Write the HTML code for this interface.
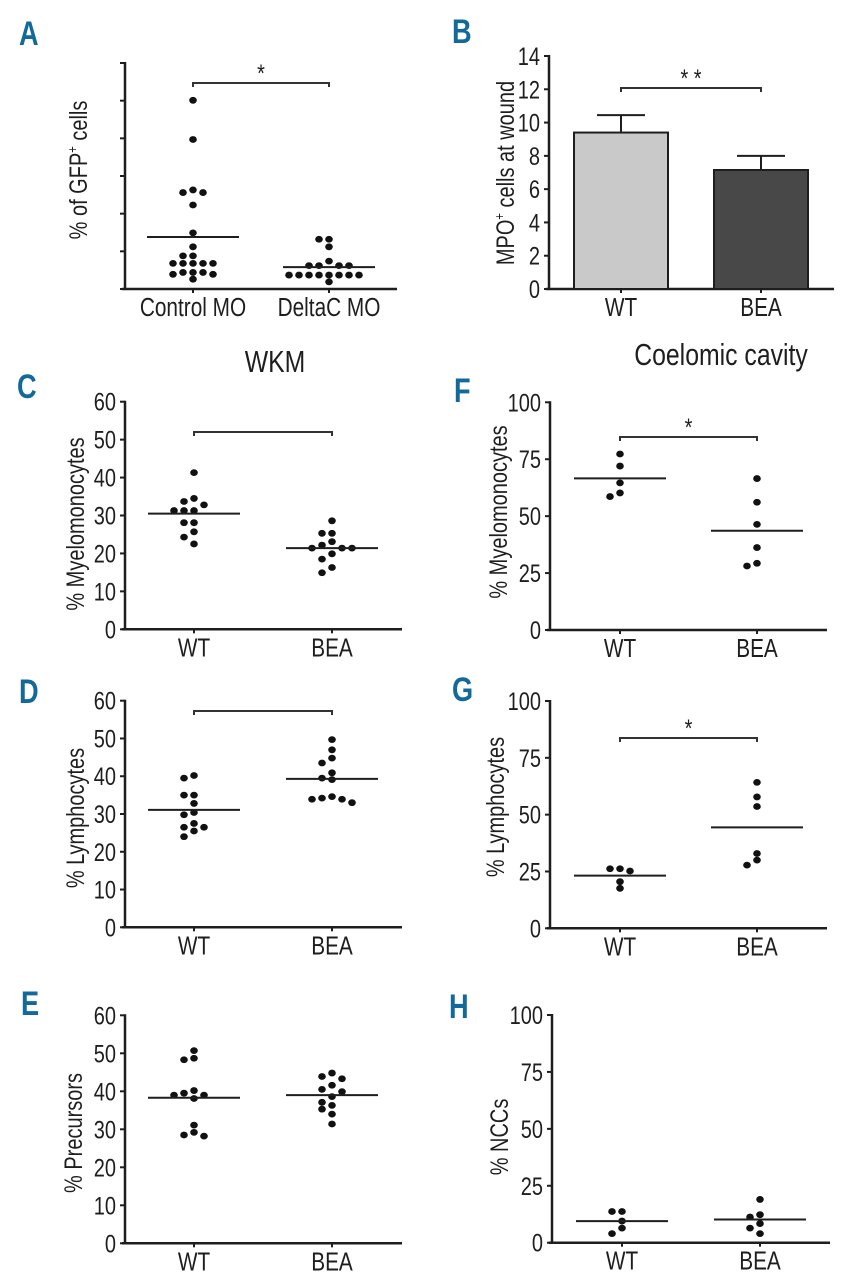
<!DOCTYPE html>
<html><head><meta charset="utf-8"><title>Figure</title>
<style>
html,body{margin:0;padding:0;background:#fff;}
svg{display:block;font-family:"Liberation Sans Narrow","Liberation Sans",sans-serif;}
</style></head>
<body>
<svg id="fig" xmlns="http://www.w3.org/2000/svg" width="851" height="1280" viewBox="0 0 851 1280"></svg>
<script>
// ---------- DATA ----------
const catsA = ['Control MO','DeltaC MO'];
const aControl = [5.01,3.97,2.56,2.56,2.63,2.23,1.49,1.12,0.88,0.88,0.68,0.68,0.68,0.68,0.68,0.44,0.39,0.44,0.39,0.44,0.26];
const aDelta = [1.32,1.32,1.12,0.74,0.62,0.62,0.62,0.62,0.37,0.37,0.37,0.37,0.37,0.37,0.37,0.37,0.19];
const aMedians = [1.38,0.58];
const aTicks = [0,1,2,3,4,5,6];

const catsB = ['WT','BEA'];
const bMeans = [9.4,7.15];
const bErr = [1.05,0.85];
const bTicks = [0,2,4,6,8,10,12,14];

const catsWB = ['WT','BEA'];
const ticks60 = [0,10,20,30,40,50,60];
const ticks100 = [0,25,50,75,100];

const cWT = [41.3,34.5,33.7,32.8,31.3,31.3,31.3,28.1,28.1,25.7,24.3,22.5];
const cBEA = [28.6,25.3,25.3,23.1,22.2,21.4,21.4,21.4,19.9,18.5,16.3,14.9];
const cMedians = [30.5,21.4];

const dWT = [40.2,39.5,35,35,32.8,30.4,29.8,27.5,26.5,26.5,25.5,24];
const dBEA = [49.7,47,44.8,43.5,40.9,39.5,39.1,34.6,34.2,33.9,33.9,33];
const dMedians = [31.1,39.3];

const eWT = [50.7,48.3,48.7,40.2,39.5,39.0,39.0,38.1,31.1,29.2,28.2,28.5];
const eBEA = [44.8,43.9,43.3,41.6,40.5,39.9,38.6,37.1,36.3,35.3,34.0,31.4];
const eMedians = [38.3,39.0];

const fWT = [77.3,72.0,64.6,60.2,58.6];
const fBEA = [66.5,56.1,46.4,36.2,29.3,28.1];
const fMedians = [66.6,43.6];

const gWT = [26.2,26.2,25.2,20.5,17.6];
const gBEA = [64.2,57.8,53.6,32.9,30.0,27.8];
const gMedians = [23.2,44.4];

const hWT = [13.7,13.7,9.5,6.4,4.0];
const hBEA = [19.0,12.3,11.3,8.4,6.4,4.0];
const hMedians = [9.5,10.2];

// ---------- DRAW ----------
const NS='http://www.w3.org/2000/svg';
const svg=document.getElementById('fig');
const SX=0.8;
function mk(tag,attrs,parent,text){
  const e=document.createElementNS(NS,tag);
  for(const k in attrs) e.setAttribute(k,attrs[k]);
  if(text!==undefined) e.textContent=text;
  (parent||svg).appendChild(e);
  return e;
}
function txt(parent,x,y,str,attrs,rot){
  const a=Object.assign({x:0,y:0},attrs);
  a.transform='translate('+x+','+y+')'+(rot?' rotate(-90)':'')+' scale('+SX+',1)';
  return mk('text',a,parent,str);
}
const INK='#1e1e1e';

function panelLetter(t,x,y){
  const e=txt(svg,x,y,t,{'font-size':34,'font-weight':'bold',fill:'#13699a'});
  
  
}
function title(t,x,y,name){
  const e=txt(svg,x,y,t,{'font-size':31,fill:INK,'text-anchor':'middle'});
  
  
}

function axes(g,o){
  const sy=v=>o.yBot-(v/o.max)*(o.yBot-o.yTop);
  const ax=mk('line',{x1:o.ax,y1:o.yTop-1,x2:o.ax,y2:o.yBot+1,stroke:INK,'stroke-width':2.5},g);
  
  
  const xa=mk('line',{x1:o.ax-3,y1:o.yBot,x2:o.xEnd,y2:o.yBot,stroke:INK,'stroke-width':2.5},g);
  
  
  o.ticks.forEach(v=>{
    const y=sy(v);
    const t=mk('line',{x1:o.ax-5,y1:y,x2:o.ax,y2:y,stroke:INK,'stroke-width':2},g);
    
    
    if(o.tickLabels){
      const l=txt(g,o.ax-9,y+9,String(v),{'font-size':25,fill:INK,'text-anchor':'end'});
      
      
    }
  });
  o.cats.forEach((c,i)=>{
    const cx=o.ax+o.cx[i];
    const t=mk('line',{x1:cx,y1:o.yBot,x2:cx,y2:o.yBot+4,stroke:INK,'stroke-width':2},g);
    
    
    const l=txt(g,cx,o.yBot+27,c,{'font-size':26,fill:INK,'text-anchor':'middle'});
    
    
  });
  const yl=txt(g,o.ylx+9,o.yly,'',{'font-size':25,fill:INK,'text-anchor':'middle'},true);
  
  
  if(o.ysup){
    mk('tspan',{},yl,o.ylabel[0]);
    mk('tspan',{'font-size':14,dy:-10},yl,o.ysup);
    mk('tspan',{dy:10},yl,o.ylabel[1]);
  } else yl.textContent=o.ylabel;
  if(o.bracket){
    const b=o.bracket;
    const x1=o.ax+o.cx[0], x2=o.ax+o.cx[1];
    const p=mk('path',{d:'M'+x1+','+(b+4)+' V'+b+' H'+x2+' V'+(b+4),fill:'none',stroke:'#333','stroke-width':2},g);
    
    
    if(o.star){
      const s=txt(g,(x1+x2)/2,b-1,o.star,{'font-size':25,fill:INK,'text-anchor':'middle'});
      
      
    }
  }
  return sy;
}

function swarm(vals,sy){
  const idx=vals.map((v,i)=>i).sort((a,b)=>vals[b]-vals[a]);
  const placed=[];const off=new Array(vals.length).fill(0);
  const cand=[0,-10,10,-20,20,-30,30,-40,40];
  idx.forEach(i=>{
    const y=sy(vals[i]);
    for(const c of cand){
      if(!placed.some(p=>Math.abs(p.y-y)<6.5&&Math.abs(p.x-c)<8.5)){
        off[i]=c;placed.push({x:c,y:y});break;
      }
    }
  });
  return off;
}

function scatterPanel(o){
  const g=mk('g',{});
  
  
  const sy=axes(g,o);
  o.series.forEach((vals,si)=>{
    const cx=o.ax+o.cx[si];
    const off=swarm(vals,sy);
    vals.forEach((v,i)=>{
      const d=mk('ellipse',{cx:cx+off[i],cy:sy(v),rx:3.8,ry:3.4,fill:'#111'},g);
      
      
    });
    const m=sy(o.medians[si]);
    const l=mk('line',{x1:cx-46,y1:m,x2:cx+46,y2:m,stroke:INK,'stroke-width':2},g);
    
    
  });
}

// Panel A
panelLetter('A',19,45);
scatterPanel({name:'panel-a-gfp-cells',ax:125,yTop:63,yBot:289,max:6,xEnd:397,ticks:aTicks,tickLabels:false,
  cats:catsA,cx:[68,204],ylx:78,yly:170,ylabel:['% of GFP',' cells'],ysup:'+',
  bracket:83,star:'*',series:[aControl,aDelta],medians:aMedians});

// Panel B (bar)
panelLetter('B',452,43);
(function(){
  const g=mk('g',{});
  
  
  const o={ax:549,yTop:56,yBot:289,max:14,xEnd:834,ticks:bTicks,tickLabels:true,cats:catsB,cx:[72,212],
    ylx:505,yly:173,ylabel:['MPO',' cells at wound'],ysup:'+',bracket:88,star:'* *'};
  const sy=axes(g,o);
  const fills=['#c9c9c9','#484848'];
  bMeans.forEach((v,i)=>{
    const cx=o.ax+o.cx[i];
    const top=sy(v), et=sy(v+bErr[i]);
    const el=mk('line',{x1:cx,y1:top,x2:cx,y2:et,stroke:INK,'stroke-width':2},g);
    
    
    const cap=mk('line',{x1:cx-24,y1:et,x2:cx+24,y2:et,stroke:INK,'stroke-width':2},g);
    
    
    const r=mk('rect',{x:cx-47,y:top,width:94,height:o.yBot-top,fill:fills[i],stroke:INK,'stroke-width':2},g);
    
    
  });
})();

title('WKM',275,372,'wkm-title');
title('Coelomic cavity',721,365,'coelomic-cavity-title');

panelLetter('C',17,398);
scatterPanel({name:'panel-c-wkm-myelomonocytes',ax:125,yTop:401.7,yBot:629.3,max:60,xEnd:402,ticks:ticks60,tickLabels:true,
  cats:catsWB,cx:[69,207],ylx:75,yly:524,ylabel:'% Myelomonocytes',bracket:432,star:'',
  series:[cWT,cBEA],medians:cMedians});

panelLetter('D',19,703);
scatterPanel({name:'panel-d-wkm-lymphocytes',ax:125,yTop:700.7,yBot:927.3,max:60,xEnd:402,ticks:ticks60,tickLabels:true,
  cats:catsWB,cx:[69,207],ylx:75,yly:818,ylabel:'% Lymphocytes',bracket:711,star:'',
  series:[dWT,dBEA],medians:dMedians});

panelLetter('E',21,1015);
scatterPanel({name:'panel-e-wkm-precursors',ax:125,yTop:1015.3,yBot:1243.3,max:60,xEnd:402,ticks:ticks60,tickLabels:true,
  cats:catsWB,cx:[69,207],ylx:73,yly:1133,ylabel:'% Precursors',bracket:0,
  series:[eWT,eBEA],medians:eMedians});

panelLetter('F',454,402);
scatterPanel({name:'panel-f-coelomic-myelomonocytes',ax:550,yTop:402.3,yBot:630,max:100,xEnd:827,ticks:ticks100,tickLabels:true,
  cats:catsWB,cx:[70,207],ylx:498,yly:512,ylabel:'% Myelomonocytes',bracket:437,star:'*',
  series:[fWT,fBEA],medians:fMedians});

panelLetter('G',452,701);
scatterPanel({name:'panel-g-coelomic-lymphocytes',ax:550,yTop:701,yBot:928.3,max:100,xEnd:827,ticks:ticks100,tickLabels:true,
  cats:catsWB,cx:[70,207],ylx:495,yly:807,ylabel:'% Lymphocytes',bracket:738,star:'*',
  series:[gWT,gBEA],medians:gMedians});

panelLetter('H',449,1018);
scatterPanel({name:'panel-h-coelomic-nccs',ax:552,yTop:1015,yBot:1242.7,max:100,xEnd:830,ticks:ticks100,tickLabels:true,
  cats:catsWB,cx:[70,208],ylx:499,yly:1137,ylabel:'% NCCs',bracket:0,
  series:[hWT,hBEA],medians:hMedians});
</script>
</body></html>
